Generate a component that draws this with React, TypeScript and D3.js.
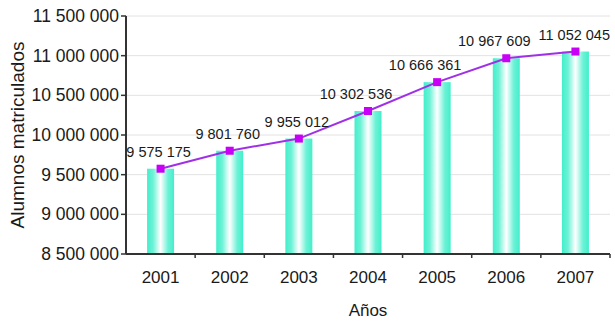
import React from "react";
import * as d3 from "d3";

const years = ["2001", "2002", "2003", "2004", "2005", "2006", "2007"];
const students = [9575175, 9801760, 9955012, 10302536, 10666361, 10967609, 11052045];
const yTicks = [8500000, 9000000, 9500000, 10000000, 10500000, 11000000, 11500000];
const yTitle = "Alumnos matriculados";
const xTitle = "Años";

const W = 615;
const H = 323;
const M = { left: 126, right: 5, top: 16, bottom: 69 };

const locale = d3.formatLocale({ decimal: ",", thousands: " ", grouping: [3], currency: ["", ""] });
const fmt = locale.format(",d");

const FONT = "'Liberation Sans', Arial, Helvetica, sans-serif";

export default function App() {
  const x = d3.scaleBand<string>().domain(years).range([M.left, W - M.right]).padding(0);
  const y = d3.scaleLinear().domain([8500000, 11500000]).range([H - M.bottom, M.top]);
  const barW = 27;
  const x0 = M.left;
  const x1 = W - M.right;
  const y0 = H - M.bottom;
  const cxOf = (i: number) => (x(years[i]) as number) + x.bandwidth() / 2;
  const line = d3
    .line<number>()
    .x((_, i) => cxOf(i))
    .y((d) => y(d));

  return (
    <svg
      width={W}
      height={H}
      style={{ position: "absolute", left: 0, top: 0, background: "#fff" }}
      fontFamily={FONT}
    >
      <defs>
        <linearGradient id="barGrad" x1="0" x2="1" y1="0" y2="0">
          <stop offset="0" stopColor="#42EFCB" />
          <stop offset="0.22" stopColor="#6CF2D6" />
          <stop offset="0.5" stopColor="#FFFFFF" />
          <stop offset="0.78" stopColor="#6CF2D6" />
          <stop offset="1" stopColor="#42EFCB" />
        </linearGradient>
      </defs>

      {yTicks.map((t) => (
        <line key={"g" + t} x1={x0} x2={x1} y1={y(t)} y2={y(t)} stroke="#e2e2e2" strokeWidth={1} />
      ))}

      {students.map((v, i) => (
        <rect key={"b" + i} x={cxOf(i) - barW / 2} y={y(v)} width={barW} height={y0 - y(v)} fill="url(#barGrad)" />
      ))}

      <line x1={x0} x2={x0} y1={M.top} y2={y0} stroke="#333" strokeWidth={2} />
      <line x1={x0} x2={x1} y1={y0} y2={y0} stroke="#333" strokeWidth={2} />

      {yTicks.map((t) => (
        <g key={"t" + t}>
          <line x1={x0 - 5} x2={x0} y1={y(t)} y2={y(t)} stroke="#333" strokeWidth={1.5} />
          <text x={x0 - 7} y={y(t)} dy="0.35em" textAnchor="end" fontSize={17.5} fill="#1a1a1a">
            {fmt(t)}
          </text>
        </g>
      ))}

      {years.map((yr, i) => {
        const bx = (x(yr) as number) + x.bandwidth();
        return <line key={"xt" + i} x1={bx} x2={bx} y1={y0} y2={y0 + 4} stroke="#333" strokeWidth={1.5} />;
      })}

      {years.map((yr, i) => (
        <text key={"xl" + yr} x={cxOf(i)} y={283} textAnchor="middle" fontSize={17} fill="#1a1a1a">
          {yr}
        </text>
      ))}

      <path d={line(students) || ""} fill="none" stroke="#A030E8" strokeWidth={2} />
      {students.map((v, i) => (
        <rect key={"m" + i} x={cxOf(i) - 4} y={y(v) - 4} width={8} height={8} fill="#C800F5" />
      ))}

      {students.map((v, i) => {
        const last = i === students.length - 1;
        const shift = v >= 10000000 ? -12 : -2;
        return (
          <text
            key={"dl" + i}
            x={last ? x1 : cxOf(i) + shift}
            y={y(v) - 12}
            textAnchor={last ? "end" : "middle"}
            fontSize={14.5}
            fill="#1a1a1a"
          >
            {fmt(v)}
          </text>
        );
      })}

      <text
        transform={`translate(24, ${(M.top + y0) / 2}) rotate(-90)`}
        textAnchor="middle"
        fontSize={19}
        fill="#1a1a1a"
      >
        {yTitle}
      </text>
      <text x={(x0 + x1) / 2} y={316} textAnchor="middle" fontSize={17} fill="#1a1a1a">
        {xTitle}
      </text>
    </svg>
  );
}
